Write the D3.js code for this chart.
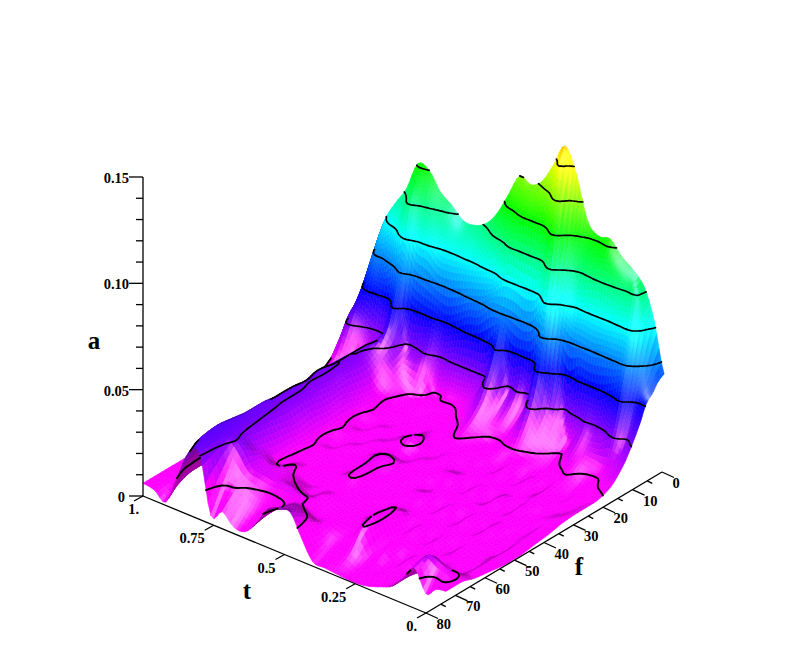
<!DOCTYPE html>
<html><head><meta charset="utf-8">
<script src="https://cdn.jsdelivr.net/npm/d3@7"></script>
<style>html,body{margin:0;padding:0;background:#fff}svg{display:block}text{font-family:"Liberation Serif",serif;font-weight:bold;fill:#000}</style>
</head><body><svg id="c" width="806" height="649"></svg>
<script>
// a is in thousandths.
const fNodes = [6,8,10,12,14,16,20,25,30,35,40,45,50,55,60,65,70,75,80];
const tNodes = [-.07,-.035,0,.04,.08,.12,.16,.20,.24,.28,.32,.36,.40,.44,.48,.52,.56,.60,.64,.68,.72,.76,.80,.84,.88,.92,.96,1];
const aMilli = [
[55,53,49,46,39,33,23,16,14,14,13.5,12,11,10,10,11,12,14,14],
[78,70,60,48,36,28,20,15,12,12,13,12,11,11,11,11.5,12,17,13],
[92,91,78,61,47,34,17,13,12,11,11,9,9,7,8,7,9,19,9],
[98,93,79,62,42,28,18,12,10,11,9,10,8,8,7,8,10,21,19],
[102,97,78,62,38,26,19,15,13,12,12,10,11,9,9,8,9,15,12],
[108,100,79,61,38,27,19,13,9,10,8,9,7,8,6,7,5,6,6],
[107,98,79,62,37,18,14,11,12,10,12,10,11,9,9,7,8,5,3.5],
[112,96,78,63,29,24,16,12,9,10,8,10,7,8,6,7,4,4,1.5],
[132,108,90,70,50,30,20,13,13,11,12,10,11,9,10,8,8,4,.5],
[143,135,112,88,65,44,25,13,10,11,9,10,8,9,7,8,6,3,.5],
[132,116,90,62,30,24,18,14,13,11,13,11,12,10,15.5,17,15.5,6,1],
[122,112,90,56,33,26,19,13,13,11,13,10,12,10,10,12,9,5,1.5],
[118,112,90,58,30,26,20,15,13,14,12,13,11,12,10,10,9,5,2],
[120,105,90,60,47,37,24,17,14,12,14,12,13,11,11,10,10,10,11],
[109,100,76,60,30,25,18,14,13,14,12,15,13,13,12,11,10,16,21],
[98,90,74,54,29,18,15,13,14,17,13,16.5,17,15.5,12,14,14,18,20],
[91,83,72,52,29,16,14,13,12,14,13,14,12,13,12,12,17,15,18],
[88,82,71,48,29,16,14,12,13,12,14,12,13,12,11,14,18,11,9],
[88,82,70,45,27,14,14,13,12,14,12,14,12,13,13,16,18,9,3],
[93,85,70,48,33,24,14,13,14,12,14,12,14,13,15.5,18,19,11,3],
[97,88,75,49,30,25,18,15,15.5,14,15.5,14,15.5,15,14,19,20,15,8],
[105,93,77,52,30,27,24,18,19,21,20,21,20,21,22,24,28,18,4],
[106,97,87,63,48,37,29,26,27,26,27,28,28,29,30,31,32,32,31],
[92,82,70,45,30,28,30,30,30,31,30,31,31,32,32,33,34,33,29],
[83,76,60,46,27,16,18,22,24,24,22,22,22,22,22,23,24,23,15],
[72,66,58,47,33,25,15,12,11,11,10,10,10,9,9,9,9,7,1.5],
[52,45,40,36,33,27,17,13,10,9,8,8,8,7,7,7,7,6,5],
[36,28,24,17,12,9,7,6.5,6,6,6,6,6,6,6,6,6,6,6]
];
const contourLevels = [15,30,45,60,75,90,105,120,135];
const aTicks = [0,50,100,150];
const aMinor = [10,20,30,40,60,70,80,90,110,120,130,140];
const aLabels = ["0","0.05","0.10","0.15"];
const tTicks = [1,.75,.5,.25,0];
const tLabels = ["1.","0.75","0.5","0.25","0."];
const fTicks = [0,10,20,30,40,50,60,70,80];
const fMinor = [5,15,25,35,45,55,65,75];

// Projection through linear scales
const tx = d3.scaleLinear().domain([0,1]).range([0,-283]);
const ty = d3.scaleLinear().domain([0,1]).range([0,-117]);
const fx = d3.scaleLinear().domain([80,0]).range([426,662]);
const fy = d3.scaleLinear().domain([80,0]).range([613,472]);
const az = d3.scaleLinear().domain([0,150]).range([0,-319]);
const X = (t,f)=>fx(f)+tx(t);
const Y = (t,f,a)=>fy(f)+ty(t)+az(a);
const depth = (t,f)=>t+(1-f/80);

// Fine rendering grid (smooth surface through the read values)
function catmull(v,x){
  const n=v.length, i=Math.min(n-2,Math.max(0,Math.floor(x))), s=x-i;
  const p0=v[Math.max(0,i-1)],p1=v[i],p2=v[i+1],p3=v[Math.min(n-1,i+2)];
  return .5*((2*p1)+(-p0+p2)*s+(2*p0-5*p1+4*p2-p3)*s*s+(-p0+3*p1-3*p2+p3)*s*s*s);
}
function monoSpline(xs,ys){
  const n=xs.length,d=[],m=[];
  for(let i=0;i<n-1;i++)d[i]=(ys[i+1]-ys[i])/(xs[i+1]-xs[i]);
  m[0]=d[0];m[n-1]=d[n-2];
  for(let i=1;i<n-1;i++)m[i]=d[i-1]*d[i]<=0?0:2*d[i-1]*d[i]/(d[i-1]+d[i]);
  return x=>{
    let i=d3.bisectRight(xs,x)-1;i=Math.max(0,Math.min(n-2,i));
    const h=xs[i+1]-xs[i],s=(x-xs[i])/h,s2=s*s,s3=s2*s;
    return (2*s3-3*s2+1)*ys[i]+(s3-2*s2+s)*h*m[i]+(-2*s3+3*s2)*ys[i+1]+(s3-s2)*h*m[i+1];
  };
}
const subT=4;
const nT=(tNodes.length-1)*subT+1;
const fSub=fNodes.slice(1).map((f,k)=>f<=16?7:f<=25?5:4);
const fCum=[0];fSub.forEach(s=>fCum.push(fCum[fCum.length-1]+s));
const nF=fCum[fCum.length-1]+1;
const tIdx=d3.scaleLinear().domain(tNodes.map((_,i)=>i*subT)).range(tNodes);
const fIdx=d3.scaleLinear().domain(fCum).range(fNodes);
const fineF=d3.range(nF).map(j=>fIdx(j));
const fineT=d3.range(nT).map(i=>tIdx(i));
const colSpl=aMilli.map(r=>monoSpline(fNodes,r));
const grid=[];
for(let i=0;i<nT;i++){
  const row=[];
  for(let j=0;j<nF;j++){
    const col=colSpl.map(s=>s(fineF[j]));
    row.push(Math.max(0,catmull(col,i/subT)));
  }
  grid.push(row);
}
const values=new Float64Array(nT*nF);
for(let i=0;i<nT;i++)for(let j=0;j<nF;j++)values[i+j*nT]=grid[i][j];

// Colour: hue falls linearly with height, plus lighting
function hueOf(a){return Math.max(0,Math.min(300,300-2*(a-15)));}
const norm=v=>{const l=Math.hypot(...v);return v.map(c=>c/l);};
const V=norm([-.65,.55,.52]);
const Lt=norm([-.35,.8,.5]);
const H=norm([V[0]+Lt[0],V[1]+Lt[1],V[2]+Lt[2]]);
const gain=1.4, Kt=gain*2.2/330, Kf=gain*2.2*80/330;
function vertexNormal(i,j){
  const i0=Math.max(0,i-1),i1=Math.min(nT-1,i+1),j0=Math.max(0,j-1),j1=Math.min(nF-1,j+1);
  const dt=(grid[i1][j]-grid[i0][j])/(fineT[i1]-fineT[i0]);
  const df=(grid[i][j1]-grid[i][j0])/(fineF[j1]-fineF[j0]);
  return norm([-dt*Kt,-df*Kf,1]);
}
const normals=d3.range(nT).map(i=>d3.range(nF).map(j=>vertexNormal(i,j)));
function shade(a,n){
  const di=Math.max(0,n[0]*Lt[0]+n[1]*Lt[1]+n[2]*Lt[2]);
  const sp=Math.pow(Math.max(0,n[0]*H[0]+n[1]*H[1]+n[2]*H[2]),14);
  const b=Math.min(1,.62+1.0*di);
  const c=d3.rgb(d3.hsl(hueOf(a),1,.5));
  const w=.5*sp*255;
  return d3.rgb(Math.min(255,c.r*b+w),Math.min(255,c.g*b+w),Math.min(255,c.b*b+w)).formatHex();
}
const cells=[];
for(let i=0;i<nT-1;i++)for(let j=0;j<nF-1;j++){
  const t0=fineT[i],t1=fineT[i+1],f0=fineF[j],f1=fineF[j+1];
  const a00=grid[i][j],a10=grid[i+1][j],a01=grid[i][j+1],a11=grid[i+1][j+1];
  const pts=[[X(t0,f0),Y(t0,f0,a00)],[X(t1,f0),Y(t1,f0,a10)],[X(t1,f1),Y(t1,f1,a11)],[X(t0,f1),Y(t0,f1,a01)]];
  const n=norm([0,1,2].map(k=>normals[i][j][k]+normals[i+1][j][k]+normals[i][j+1][k]+normals[i+1][j+1][k]));
  cells.push({pts,d:depth((t0+t1)/2,(f0+f1)/2),col:shade((a00+a10+a01+a11)/4,n)});
}
cells.sort((a,b)=>b.d-a.d);

const svg=d3.select("#c");
const W=806,Hh=649;
const zb=new Float32Array(W*Hh).fill(1e9);
function tri(a,b,c,d){
  const x0=Math.max(0,Math.floor(Math.min(a[0],b[0],c[0]))),x1=Math.min(W-1,Math.ceil(Math.max(a[0],b[0],c[0])));
  const y0=Math.max(0,Math.floor(Math.min(a[1],b[1],c[1]))),y1=Math.min(Hh-1,Math.ceil(Math.max(a[1],b[1],c[1])));
  const den=(b[1]-c[1])*(a[0]-c[0])+(c[0]-b[0])*(a[1]-c[1]);
  if(Math.abs(den)<1e-6)return;
  for(let y=y0;y<=y1;y++)for(let x=x0;x<=x1;x++){
    const l1=((b[1]-c[1])*(x-c[0])+(c[0]-b[0])*(y-c[1]))/den;
    const l2=((c[1]-a[1])*(x-c[0])+(a[0]-c[0])*(y-c[1]))/den;
    if(l1>=-.05&&l2>=-.05&&l1+l2<=1.05){const k=y*W+x;if(d<zb[k])zb[k]=d;}
  }
}
cells.forEach(c=>{tri(c.pts[0],c.pts[1],c.pts[2],c.d);tri(c.pts[0],c.pts[2],c.pts[3],c.d);});

const fmt=p=>p[0].toFixed(1)+","+p[1].toFixed(1);
svg.append("g").attr("class","surface").selectAll("path").data(cells).join("path")
  .attr("d",c=>"M"+c.pts.map(fmt).join("L")+"Z")
  .attr("fill",c=>c.col).attr("stroke",c=>c.col).attr("stroke-width",.6).attr("stroke-linejoin","round");

// Contours
const contours=d3.contours().size([nT,nF]).thresholds(contourLevels)(values);
const g=svg.append("g").attr("class","contours").attr("fill","none").attr("stroke","#000").attr("stroke-linejoin","round").attr("stroke-linecap","round");
function visible(t,f,a){
  const x=Math.round(X(t,f)),y=Math.round(Y(t,f,a));
  if(x<0||y<0||x>=W||y>=Hh)return false;
  return zb[y*W+x]>=depth(t,f)-.03;
}
contours.forEach(ct=>{
  const lev=ct.value; let d="";
  ct.coordinates.forEach(poly=>poly.forEach(ring=>{
    let pen=false;
    for(let k=0;k<ring.length-1;k++){
      const p=ring[k],q=ring[k+1];
      const bd=(v,n)=>v<=.5||v>=n-.5;
      if((bd(p[0],nT)&&bd(q[0],nT)&&Math.abs(p[0]-q[0])<1)||(bd(p[1],nF)&&bd(q[1],nF)&&Math.abs(p[1]-q[1])<1)){pen=false;continue;}
      const map=c=>[tIdx(Math.max(0,Math.min(nT-1,c[0]-.5))),fIdx(Math.max(0,Math.min(nF-1,c[1]-.5)))];
      const a=map(p),b=map(q);
      const mid=[(a[0]+b[0])/2,(a[1]+b[1])/2];
      if(!visible(mid[0],mid[1],lev)){pen=false;continue;}
      const pa=[X(a[0],a[1]),Y(a[0],a[1],lev)],pb=[X(b[0],b[1]),Y(b[0],b[1],lev)];
      if(!pen)d+="M"+fmt(pa);
      d+="L"+fmt(pb);pen=true;
    }
  }));
  g.append("path").attr("d",d).attr("stroke-width",lev<=15?1.9:1.7);
});

// Axes
const ax=svg.append("g").attr("class","axes").attr("stroke","#000").attr("fill","none").attr("stroke-width",1.3);
const line=(x1,y1,x2,y2)=>ax.append("line").attr("x1",x1).attr("y1",y1).attr("x2",x2).attr("y2",y2);
const zY=d3.scaleLinear().domain([0,150]).range([496,177]);
line(143,zY(0),143,zY(150));
aTicks.forEach(v=>line(129,zY(v),143,zY(v)));
aMinor.forEach(v=>line(136,zY(v),143,zY(v)));
const P=(t,f)=>[X(t,f),Y(t,f,0)];
let a1=P(1,80),a2=P(0,80),a3=P(0,0);
line(a1[0],a1[1],a2[0],a2[1]);line(a2[0],a2[1],a3[0],a3[1]);
tTicks.forEach(t=>{const p=P(t,80);line(p[0],p[1],p[0]-9,p[1]+5);});
fTicks.forEach(f=>{const p=P(0,f);line(p[0],p[1],p[0]+12,p[1]+5.5);});
fMinor.forEach(f=>{const p=P(0,f);line(p[0],p[1],p[0]+5,p[1]+2.5);});
const tg=svg.append("g").attr("class","labels").attr("font-size",14.5);
const txt=(x,y,s,anchor,size)=>{const e=tg.append("text").attr("x",x).attr("y",y).attr("text-anchor",anchor).attr("dominant-baseline","central").text(s);if(size)e.attr("font-size",size);return e;};
aTicks.forEach((v,i)=>txt(v===0?125:129,zY(v)+1,aLabels[i],"end"));
tTicks.forEach((t,i)=>{const p=P(t,80);txt(t===1?p[0]-4:p[0]-9,p[1]+13,tLabels[i],"end");});
fTicks.forEach(f=>{const p=P(0,f);txt(p[0]+10.5,p[1]+11,String(f),"start");});
txt(94,340,"a","middle",25);
txt(247,590,"t","middle",25);
txt(579,566,"f","middle",25);
</script></body></html>
